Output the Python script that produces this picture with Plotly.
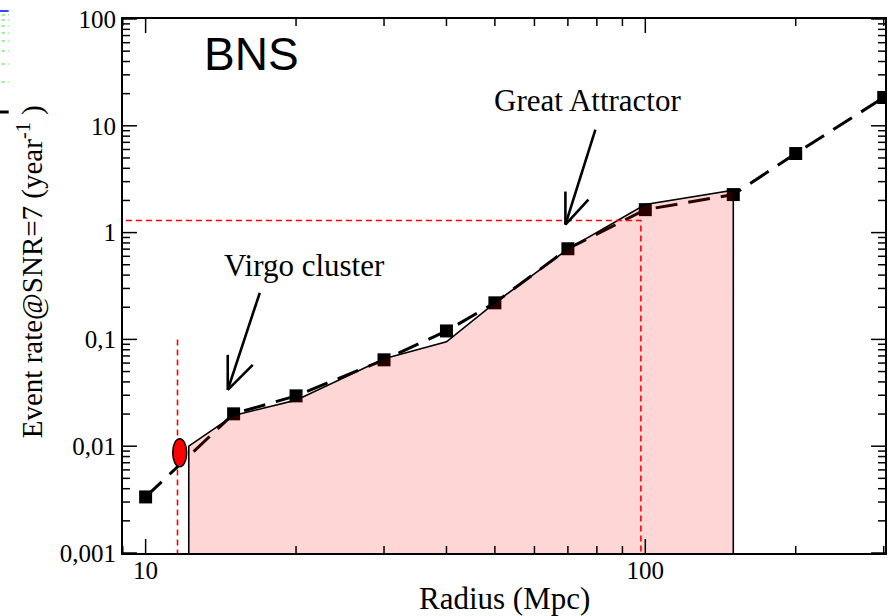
import math
import plotly.graph_objects as go

# ---- data ----
radius_pts = [10, 15, 20, 30, 40, 50, 70, 100, 150, 200, 300]
rate_pts = [0.00335, 0.0201, 0.0296, 0.0644, 0.12, 0.22, 0.706, 1.64, 2.27, 5.5, 18.4]

solid_radius = [12.2, 15, 20, 30, 40, 50, 70, 100, 150]
solid_rate = [0.01, 0.0194, 0.027, 0.066, 0.095, 0.22, 0.70, 1.83, 2.49]

virgo_R = 11.7          # Virgo cluster distance (red ellipse / dashed line)
virgo_rate = 0.0087
virgo_line_top = 0.1
ga_R = 98               # Great Attractor
ga_rate = 1.3

virgo_arrow_tip = (14.6, 0.0337)
ga_arrow_tip = (69.2, 1.19)

y_tickvals = [0.001, 0.01, 0.1, 1, 10, 100]
y_ticktext = ["0,001", "0,01", "0,1", "1", "10", "100"]
x_tickvals = [10, 100]
x_ticktext = ["10", "100"]

y_min, y_max = 0.001, 100
x_min, x_max = 9.01, 301.8

SERIF = "Liberation Serif"
SANS = "Liberation Sans"

x_minor = [m * d for d in (1, 10, 100) for m in range(2, 10) if 9 <= m * d <= 300]
y_minor = [m * d for d in (0.001, 0.01, 0.1, 1, 10) for m in range(2, 10)]

# plot-area geometry (pixels)
PLOT_W, PLOT_H = 764, 534
LX0, LX1 = math.log10(x_min), math.log10(x_max)
LY0, LY1 = math.log10(y_min), math.log10(y_max)
px_per_dec_x = PLOT_W / (LX1 - LX0)
px_per_dec_y = PLOT_H / (LY1 - LY0)

fig = go.Figure()

# dashed model line with squares
fig.add_trace(go.Scatter(
    x=radius_pts, y=rate_pts, mode="lines+markers",
    line=dict(color="black", width=3, dash="22px,11px"),
    marker=dict(symbol="square", size=13, color="black"),
    hoverinfo="skip", showlegend=False))

# shaded region under the solid curve
poly_x = [solid_radius[0]] + solid_radius + [solid_radius[-1]]
poly_y = [y_min] + solid_rate + [y_min]
fig.add_trace(go.Scatter(
    x=poly_x, y=poly_y, mode="lines", fill="toself",
    fillcolor="rgba(255,0,0,0.16)",
    line=dict(color="black", width=1.6),
    hoverinfo="skip", showlegend=False))

# red dashed guide lines
fig.add_trace(go.Scatter(
    x=[1, ga_R, ga_R], y=[ga_rate, ga_rate, y_min / 2], mode="lines",
    line=dict(color="#ff0000", width=1.6, dash="6px,4px"),
    hoverinfo="skip", showlegend=False))
fig.add_trace(go.Scatter(
    x=[virgo_R * 0.99, virgo_R * 0.99], y=[virgo_line_top, y_min / 2], mode="lines",
    line=dict(color="#ff0000", width=1.6, dash="6px,4px"),
    hoverinfo="skip", showlegend=False))


def arrow_shapes(tip, shaft, left, right, width=2.6):
    out = []
    for dx, dy in (shaft, left, right):
        out.append(dict(type="line", xref="x", yref="y", xsizemode="pixel", ysizemode="pixel",
                        xanchor=tip[0], yanchor=tip[1], x0=0, y0=0, x1=dx, y1=dy,
                        line=dict(color="black", width=width), layer="above"))
    return out


# red ellipse marking the Virgo cluster (14 x 28 px)
ex = 10 ** (7 / px_per_dec_x)
ey = 10 ** (14 / px_per_dec_y)
shapes = [
    dict(type="circle", xref="x", yref="y",
         x0=virgo_R / ex, x1=virgo_R * ex, y0=virgo_rate / ey, y1=virgo_rate * ey,
         fillcolor="#ff0000", line=dict(color="black", width=1.5), layer="above"),
    # fragments of a neighbouring panel at the left edge
    dict(type="line", xref="paper", yref="paper", x0=-0.162, x1=-0.150,
         y0=(553 - 11) / 534, y1=(553 - 11) / 534, line=dict(color="blue", width=1.5)),
    dict(type="line", xref="paper", yref="paper", x0=-0.162, x1=-0.150,
         y0=(553 - 112) / 534, y1=(553 - 112) / 534, line=dict(color="black", width=3)),
]
shapes += arrow_shapes(virgo_arrow_tip, (32, 97), (-5, 35), (25, 25))
shapes += arrow_shapes(ga_arrow_tip, (30, 95), (-5, 33), (23, 25))
for gy in [15, 20, 26, 33, 41, 51, 64, 82]:
    shapes.append(dict(type="line", xref="paper", yref="paper", x0=-0.159, x1=-0.150,
                       y0=(553 - gy) / 534, y1=(553 - gy) / 534,
                       line=dict(color="#33dd33", width=1, dash="dot")))

# inside tick marks on all four sides
MAJ, MIN = 14, 7
tick_line = dict(color="black", width=1.5)
for vals, ln in ((x_tickvals, MAJ), (x_minor, MIN)):
    for v in vals:
        shapes.append(dict(type="line", xref="x", yref="paper", x0=v, x1=v,
                           y0=0, y1=ln / PLOT_H, line=tick_line, layer="above"))
        shapes.append(dict(type="line", xref="x", yref="paper", x0=v, x1=v,
                           y0=1, y1=1 - ln / PLOT_H, line=tick_line, layer="above"))
for vals, ln in ((y_tickvals, MAJ), (y_minor, MIN)):
    for v in vals:
        shapes.append(dict(type="line", xref="paper", yref="y", y0=v, y1=v,
                           x0=0, x1=ln / PLOT_W, line=tick_line, layer="above"))
        shapes.append(dict(type="line", xref="paper", yref="y", y0=v, y1=v,
                           x0=1, x1=1 - ln / PLOT_W, line=tick_line, layer="above"))

annotations = [
    dict(x=1.318, y=-0.31, xref="x", yref="y", text="Virgo cluster", showarrow=False,
         font=dict(family=SERIF, size=31, color="black"), xanchor="center", yanchor="middle"),
    dict(x=1.885, y=1.24, xref="x", yref="y", text="Great Attractor", showarrow=False,
         font=dict(family=SERIF, size=31, color="black"), xanchor="center", yanchor="middle"),
    dict(x=1.212, y=1.677, xref="x", yref="y", text="BNS", showarrow=False,
         font=dict(family=SANS, size=46, color="black"), xanchor="center", yanchor="middle"),
    dict(x=0.5, y=(553 - 598) / 534, xref="paper", yref="paper", text="Radius (Mpc)",
         showarrow=False, font=dict(family=SERIF, size=31, color="black"),
         xanchor="center", yanchor="middle"),
    dict(x=(30 - 123) / 764, y=(553 - 272) / 534, xref="paper", yref="paper",
         text="Event rate@SNR=7 (year<sup>-1</sup> )", textangle=-90,
         showarrow=False, font=dict(family=SERIF, size=29, color="black"),
         xanchor="center", yanchor="middle"),
]

axis_common = dict(
    type="log", showline=True, linecolor="black", linewidth=2, mirror=True,
    ticks="", showgrid=False, zeroline=False,
    tickfont=dict(family=SERIF, size=25, color="black"),
)

fig.update_layout(
    width=890, height=616,
    margin=dict(l=123, r=3, t=19, b=63),
    paper_bgcolor="white", plot_bgcolor="white",
    showlegend=False,
    shapes=shapes, annotations=annotations,
    xaxis=dict(axis_common, range=[LX0, LX1],
               tickvals=x_tickvals, ticktext=x_ticktext, ticklabelstandoff=-6),
    yaxis=dict(axis_common, range=[LY0, LY1],
               tickvals=y_tickvals, ticktext=y_ticktext),
)

fig.write_html("out.html", config={"displayModeBar": False},
               post_script="document.body.style.margin='0';document.body.style.padding='0';")
